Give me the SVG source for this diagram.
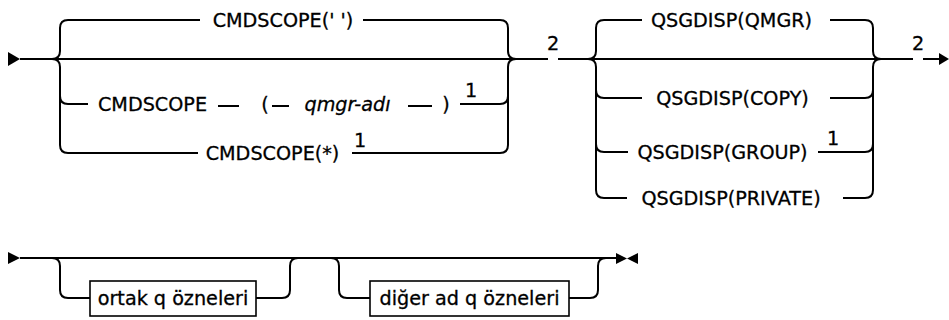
<svg xmlns="http://www.w3.org/2000/svg" width="949" height="320" viewBox="0 0 949 320">
<style>
.ln{fill:none;stroke:#000;stroke-width:2}
.bx{fill:#fff;stroke:#000;stroke-width:1.6}
.t{font-family:"DejaVu Sans","Liberation Sans",sans-serif;font-size:19.2px;fill:#000;stroke:#000;stroke-width:0.3;text-anchor:middle}
.i{font-style:italic}
.ar{fill:#000;stroke:none}
</style>
<rect width="949" height="320" fill="#fff"/>
<g id="connectors">
<path class="ln" d="M20 59 H548 M558 59 H913 M923 59 H941"/>
<polygon class="ar" points="8,52 20,59 8,66"/>
<polygon class="ar" points="939,53 949,59 939,65"/>
<path class="ln" d="M52 59 Q60 59 60 51 V28 Q60 20 68 20 H200"/>
<path class="ln" d="M52 59 Q60 59 60 67 V145 Q60 153 68 153 H198"/>
<path class="ln" d="M60 96 Q60 104 68 104 H88"/>
<path class="ln" d="M363 20 H500 Q508 20 508 28 V51 Q508 59 516 59"/>
<path class="ln" d="M516 59 Q508 59 508 67 V145 Q508 153 500 153 H352"/>
<path class="ln" d="M460 104 H500 Q508 104 508 96"/>
<path class="ln" d="M218 106 H239 M272 106 H289 M408 106 H432"/>
<path class="ln" d="M588 59 Q596 59 596 51 V28 Q596 20 604 20 H642"/>
<path class="ln" d="M588 59 Q596 59 596 67 V190 Q596 198 604 198 H627"/>
<path class="ln" d="M596 90 Q596 98 604 98 H642"/>
<path class="ln" d="M596 144 Q596 152 604 152 H628"/>
<path class="ln" d="M830 20 H865 Q873 20 873 28 V51 Q873 59 881 59"/>
<path class="ln" d="M881 59 Q873 59 873 67 V190 Q873 198 865 198 H843"/>
<path class="ln" d="M830 98 H865 Q873 98 873 90"/>
<path class="ln" d="M818 152 H865 Q873 152 873 144"/>
<path class="ln" d="M20 258 H616"/>
<polygon class="ar" points="8,252 20,258 8,264"/>
<polygon class="ar" points="616,253 627,258.5 616,264"/>
<polygon class="ar" points="638,253 627,258.5 638,264"/>
<path class="ln" d="M52 258 Q60 258 60 266 V290 Q60 298 68 298 H90"/>
<path class="ln" d="M256 298 H282 Q290 298 290 290 V266 Q290 258 298 258"/>
<path class="ln" d="M331 258 Q339 258 339 266 V290 Q339 298 347 298 H370"/>
<path class="ln" d="M569 298 H590 Q598 298 598 290 V266 Q598 258 606 258"/>
</g>
<g id="n-cmdscope-blank"><text class="t" x="283" y="27">CMDSCOPE(' ')</text></g>
<g id="n-cmdscope-qmgr">
<text class="t" x="152.5" y="111">CMDSCOPE</text>
<text class="t" x="265" y="111">(</text>
<text class="t i" x="347.5" y="111">qmgr-adı</text>
<text class="t" x="446" y="111">)</text>
<text class="t" x="471" y="97">1</text>
</g>
<g id="n-cmdscope-star">
<text class="t" x="272.5" y="160">CMDSCOPE(*)</text>
<text class="t" x="360" y="147">1</text>
</g>
<g id="n-note2a"><text class="t" x="553" y="50">2</text></g>
<g id="n-qmgr"><text class="t" x="731.5" y="27">QSGDISP(QMGR)</text></g>
<g id="n-copy"><text class="t" x="732.5" y="105">QSGDISP(COPY)</text></g>
<g id="n-group">
<text class="t" x="722.5" y="159">QSGDISP(GROUP)</text>
<text class="t" x="833" y="145">1</text>
</g>
<g id="n-private"><text class="t" x="731" y="205">QSGDISP(PRIVATE)</text></g>
<g id="n-note2b"><text class="t" x="918" y="50">2</text></g>
<g id="n-ortak">
<rect class="bx" x="90" y="281" width="166" height="35"/>
<text class="t" x="173" y="305">ortak q özneleri</text>
</g>
<g id="n-diger">
<rect class="bx" x="370" y="281" width="199" height="35"/>
<text class="t" x="469.5" y="305">diğer ad q özneleri</text>
</g>
</svg>
